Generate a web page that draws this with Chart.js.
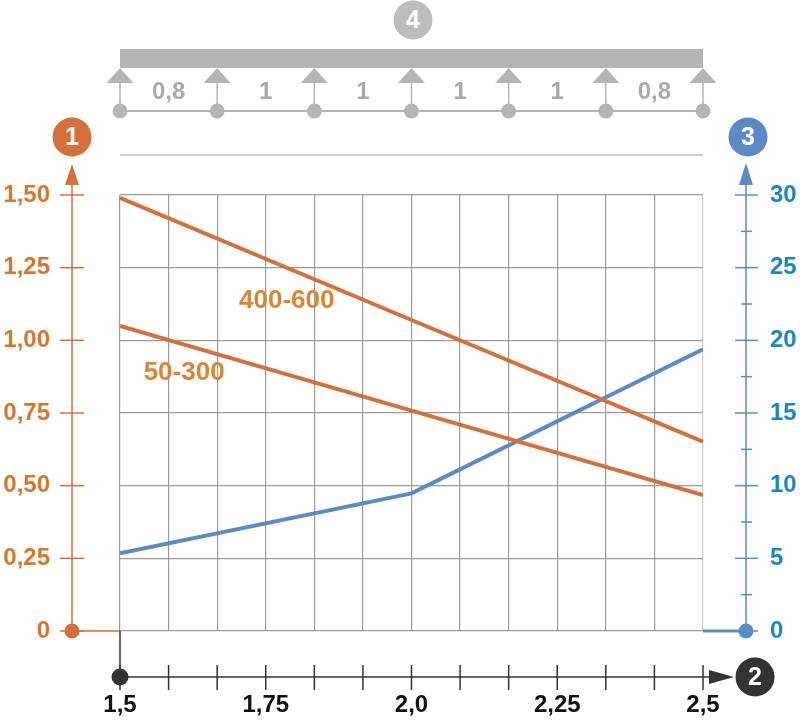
<!DOCTYPE html>
<html><head><meta charset="utf-8">
<script src="https://cdn.jsdelivr.net/npm/chart.js@4/dist/chart.umd.min.js"></script>
<style>html,body{margin:0;padding:0;background:#fff;} canvas{display:block;}</style>
</head><body>
<canvas id="c" width="800" height="721"></canvas>
<script>
// ---- data ----
const xValues = [1.5, 2.0, 2.5];
const series400_600 = [1.49, 1.07, 0.651];
const series50_300 = [1.05, 0.758, 0.468];
const seriesBlue = [5.35, 9.47, 19.38];
const seriesNames = ['400-600', '50-300'];
const xTickValues = [1.5, 1.75, 2.0, 2.25, 2.5];
const xTickLabels = ['1,5', '1,75', '2,0', '2,25', '2,5'];
const leftTickValues = [0, 0.25, 0.5, 0.75, 1.0, 1.25, 1.5];
const leftTickLabels = ['0', '0,25', '0,50', '0,75', '1,00', '1,25', '1,50'];
const rightTickValues = [0, 5, 10, 15, 20, 25, 30];
const rightTickLabels = ['0', '5', '10', '15', '20', '25', '30'];
const spanLabels = ['0,8', '1', '1', '1', '1', '0,8'];
const badgeLabels = ['1', '2', '3', '4'];

const FONT = "'Liberation Sans', Arial, Helvetica, sans-serif";
const ORANGE = '#d4703a', ORANGE_TXT = '#d8752f', LABEL_ORANGE = '#da8534';
const BLUE = '#5b8bc7', BLUE_TXT = '#1b86c6', DARK = '#333333', GRAY = '#b4b5b7', GRAY_TXT = '#a9aaac';

const xMin = 1.5, xMax = 2.5, nDiv = 12;
const xGrid = [];
for (let i = 0; i <= nDiv; i++) xGrid.push(xMin + (xMax - xMin) * i / nDiv);

function pts(ys) { return xValues.map((x, i) => ({ x: x, y: ys[i] })); }
function labelFor(values, labels, v) {
  const i = values.findIndex(t => Math.abs(t - v) < 1e-9);
  return i >= 0 ? labels[i] : '';
}

const deco = {
  id: 'deco',
  afterDraw(chart) {
    const ctx = chart.ctx, xs = chart.scales.x, yl = chart.scales.y, yr = chart.scales.y2;
    const ca = chart.chartArea;
    const line = (x1, y1, x2, y2) => { ctx.beginPath(); ctx.moveTo(x1, y1); ctx.lineTo(x2, y2); ctx.stroke(); };
    const dot = (x, y, r, c) => { ctx.fillStyle = c; ctx.beginPath(); ctx.arc(x, y, r, 0, Math.PI * 2); ctx.fill(); };
    const tri = (p, c) => { ctx.fillStyle = c; ctx.beginPath(); ctx.moveTo(p[0], p[1]); ctx.lineTo(p[2], p[3]); ctx.lineTo(p[4], p[5]); ctx.closePath(); ctx.fill(); };
    const badge = (x, y, t, c) => {
      dot(x, y, 19.5, c);
      ctx.fillStyle = '#fff'; ctx.font = 'bold 25px ' + FONT; ctx.textAlign = 'center'; ctx.textBaseline = 'middle';
      ctx.fillText(t, x, y + 1);
    };
    ctx.save();
    ctx.lineCap = 'butt';
    const y0 = yl.getPixelForValue(0);
    // left orange axis
    const lx = 72;
    ctx.strokeStyle = ORANGE; ctx.lineWidth = 1.5;
    line(lx, y0, lx, 184);
    leftTickValues.forEach(v => { const p = yl.getPixelForValue(v); line(60, p, 84, p); });
    line(lx, y0, ca.left, y0);
    tri([lx, 164, lx - 7, 185, lx + 7, 185], ORANGE);
    dot(lx, y0, 7.5, ORANGE);
    badge(72, 137, badgeLabels[0], ORANGE);
    // right blue axis
    const rx = 746;
    ctx.strokeStyle = BLUE; ctx.lineWidth = 1.5;
    line(rx, y0, rx, 184);
    rightTickValues.forEach(v => { const p = yr.getPixelForValue(v); line(735, p, 758, p); });
    for (let i = 0; i < rightTickValues.length - 1; i++) {
      const p = yr.getPixelForValue((rightTickValues[i] + rightTickValues[i + 1]) / 2);
      line(741, p, 752, p);
    }
    ctx.lineWidth = 3;
    line(ca.right, y0, rx, y0);
    tri([rx, 163, rx - 7, 185, rx + 7, 185], BLUE);
    dot(rx, y0, 7.5, BLUE);
    badge(748, 137, badgeLabels[2], BLUE);
    // bottom dark axis
    const by = 677;
    ctx.strokeStyle = DARK; ctx.lineWidth = 1.5;
    line(ca.left, y0, ca.left, by);
    line(ca.left, by, 712, by);
    xGrid.forEach(v => { const p = xs.getPixelForValue(v); line(p, 665, p, 690); });
    tri([734, by, 709, by - 7, 709, by + 7], DARK);
    dot(ca.left, by, 8.5, DARK);
    badge(755, 677, badgeLabels[1], DARK);
    // top beam
    const sup = xGrid.filter((v, i) => i % 2 === 0).map(v => xs.getPixelForValue(v));
    ctx.fillStyle = GRAY;
    ctx.fillRect(ca.left, 49, ca.right - ca.left, 19);
    ctx.strokeStyle = GRAY; ctx.lineWidth = 2;
    line(ca.left, 111, ca.right, 111);
    sup.forEach(px => {
      tri([px, 68, px - 13.5, 83, px + 13.5, 83], GRAY);
      ctx.lineWidth = 1.5; line(px, 83, px, 108);
      dot(px, 111, 7.5, GRAY);
    });
    ctx.fillStyle = GRAY_TXT; ctx.font = 'bold 24px ' + FONT; ctx.textAlign = 'center'; ctx.textBaseline = 'middle';
    for (let i = 0; i < spanLabels.length; i++) ctx.fillText(spanLabels[i], (sup[i] + sup[i + 1]) / 2, 92);
    ctx.strokeStyle = '#bdbebf'; ctx.lineWidth = 1.5;
    line(ca.left, 155, ca.right, 155);
    badge(413, 20, badgeLabels[3], '#bcbdbf');
    // series labels
    ctx.fillStyle = LABEL_ORANGE; ctx.font = 'bold 26px ' + FONT; ctx.textAlign = 'center'; ctx.textBaseline = 'middle';
    ctx.fillText(seriesNames[0], xs.getPixelForValue(1.786), yl.getPixelForValue(1.135));
    ctx.fillText(seriesNames[1], xs.getPixelForValue(1.61), yl.getPixelForValue(0.888));
    ctx.restore();
  }
};

new Chart(document.getElementById('c'), {
  type: 'line',
  data: {
    datasets: [
      { label: seriesNames[0], data: pts(series400_600), yAxisID: 'y', borderColor: ORANGE, borderWidth: 4, pointRadius: 0, tension: 0, fill: false },
      { label: seriesNames[1], data: pts(series50_300), yAxisID: 'y', borderColor: ORANGE, borderWidth: 4, pointRadius: 0, tension: 0, fill: false },
      { label: 'blue', data: pts(seriesBlue), yAxisID: 'y2', borderColor: BLUE, borderWidth: 4, pointRadius: 0, tension: 0, fill: false }
    ]
  },
  options: {
    responsive: false, animation: false, devicePixelRatio: 1,
    layout: { padding: { top: 195, left: 0, right: 0, bottom: 0 } },
    plugins: { legend: { display: false }, tooltip: { enabled: false } },
    scales: {
      x: {
        type: 'linear', min: xMin, max: xMax, position: 'bottom',
        afterBuildTicks: s => { s.ticks = xGrid.map(v => ({ value: v })); },
        afterFit: s => { s.height = 90; },
        grid: { color: c => (c.tick && Math.abs(c.tick.value - xMax) < 1e-9) ? '#cfcfcf' : '#9a9a9a', lineWidth: 1.2, drawTicks: false },
        border: { display: false },
        ticks: { autoSkip: false, maxRotation: 0, padding: 60, color: '#111', font: { family: FONT, size: 24, weight: 'bold' },
          callback: v => labelFor(xTickValues, xTickLabels, v) }
      },
      y: {
        type: 'linear', min: 0, max: 1.5, position: 'left',
        afterBuildTicks: s => { s.ticks = leftTickValues.map(v => ({ value: v })); },
        afterFit: s => { s.width = 120; },
        grid: { color: '#9a9a9a', lineWidth: 1.2, drawTicks: false },
        border: { display: false },
        ticks: { padding: 70, color: ORANGE_TXT, font: { family: FONT, size: 24, weight: 'bold' },
          callback: v => labelFor(leftTickValues, leftTickLabels, v) }
      },
      y2: {
        type: 'linear', min: 0, max: 30, position: 'right',
        afterBuildTicks: s => { s.ticks = rightTickValues.map(v => ({ value: v })); },
        afterFit: s => { s.width = 97; },
        grid: { display: false, drawTicks: false },
        border: { display: false },
        ticks: { padding: 67, color: BLUE_TXT, font: { family: FONT, size: 24, weight: 'bold' },
          callback: v => labelFor(rightTickValues, rightTickLabels, v) }
      }
    }
  },
  plugins: [deco]
});
</script>
</body></html>
